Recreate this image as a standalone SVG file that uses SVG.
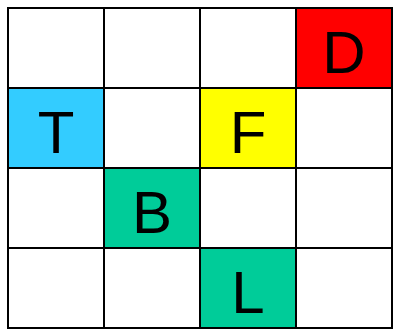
<svg xmlns="http://www.w3.org/2000/svg" width="395" height="332" viewBox="0 0 395 332">
<style>
.c{stroke:#000;stroke-width:2;fill:#fff}
.t{font-family:"Liberation Sans",Arial,sans-serif;font-size:60px;text-anchor:middle;fill:#000}
</style>
<rect x="0" y="0" width="395" height="332" fill="#fff"/>
<g id="grid">
<rect class="c" x="8" y="8" width="96" height="80"/>
<rect class="c" x="104" y="8" width="96" height="80"/>
<rect class="c" x="200" y="8" width="96" height="80"/>
<rect class="c" x="104" y="88" width="96" height="80"/>
<rect class="c" x="296" y="88" width="96" height="80"/>
<rect class="c" x="8" y="168" width="96" height="80"/>
<rect class="c" x="200" y="168" width="96" height="80"/>
<rect class="c" x="296" y="168" width="96" height="80"/>
<rect class="c" x="8" y="248" width="96" height="80"/>
<rect class="c" x="104" y="248" width="96" height="80"/>
<rect class="c" x="296" y="248" width="96" height="80"/>
</g>
<g id="D"><rect class="c" x="296" y="8" width="96" height="80" style="fill:#ff0000"/><text class="t" x="344" y="73">D</text></g>
<g id="T"><rect class="c" x="8" y="88" width="96" height="80" style="fill:#33ccff"/><text class="t" x="56" y="153">T</text></g>
<g id="F"><rect class="c" x="200" y="88" width="96" height="80" style="fill:#ffff00"/><text class="t" x="248" y="153">F</text></g>
<g id="B"><rect class="c" x="104" y="168" width="96" height="80" style="fill:#00cc99"/><text class="t" x="152" y="233">B</text></g>
<g id="L"><rect class="c" x="200" y="248" width="96" height="80" style="fill:#00cc99"/><text class="t" x="248" y="313">L</text></g>
</svg>
